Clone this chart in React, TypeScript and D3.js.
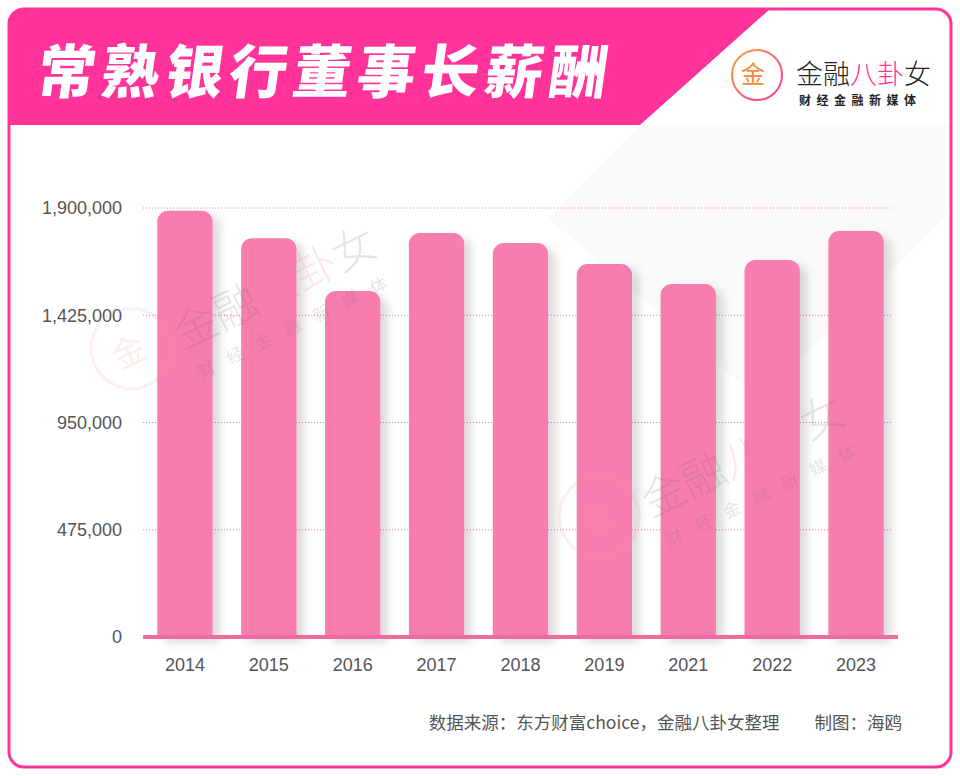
import { useMemo } from "react";
import * as d3 from "d3";

const years = ["2014", "2015", "2016", "2017", "2018", "2019", "2021", "2022", "2023"];
const salary = [1888000, 1766000, 1532000, 1789000, 1745000, 1652000, 1563000, 1670000, 1798000];
const yTicks = [0, 475000, 950000, 1425000, 1900000];

const title = "常熟银行董事长薪酬";
const source = "数据来源：东方财富choice，金融八卦女整理　　制图：海鸥";

const W = 960;
const H = 776;
const PINK = "#ff3399";
const BAR = "#f77daf";
const CJK = "'Noto Sans CJK SC', 'Noto Sans', sans-serif";
const LATIN = "'Liberation Sans', Arial, sans-serif";

function Watermark({ x, y }: { x: number; y: number }) {
  return (
    <g transform={`translate(${x},${y}) rotate(-26)`} pointerEvents="none">
      <circle cx={-46} cy={-24} r={40} fill="none" stroke="#f6a08a" strokeWidth={3} opacity={0.16} />
      <text x={-50} y={-10} textAnchor="middle" fontSize={34} fill="#f6a08a" fontFamily={CJK} opacity={0.16}>金</text>
      <text x={0} y={0} fontSize={44} fill="#666" fontFamily={CJK} fontWeight={300} opacity={0.16}>
        金融<tspan fill="#ff6699">八卦</tspan>女
      </text>
      <text x={4} y={34} fontSize={17} fill="#666" fontFamily={CJK} letterSpacing={15} opacity={0.16}>财经金融新媒体</text>
    </g>
  );
}

export default function App() {
  const margin = { top: 208, left: 143, right: 62, bottom: 139 };
  const x = useMemo(
    () => d3.scaleBand<string>().domain(years).range([margin.left, W - margin.right]).paddingInner(0.34).paddingOuter(0.17),
    []
  );
  const y = useMemo(() => d3.scaleLinear().domain([0, 1900000]).range([H - margin.bottom, margin.top]), []);
  const fmt = d3.format(",");
  const r = 11;

  const barPath = (xi: number, bw: number, y0: number, y1: number) => {
    const p = d3.path();
    p.moveTo(xi, y0);
    p.lineTo(xi, y1 + r);
    p.arcTo(xi, y1, xi + r, y1, r);
    p.lineTo(xi + bw - r, y1);
    p.arcTo(xi + bw, y1, xi + bw, y1 + r, r);
    p.lineTo(xi + bw, y0);
    p.closePath();
    return p.toString();
  };

  return (
    <div style={{ position: "absolute", left: 0, top: 0 }}>
      <svg width={W} height={H} style={{ display: "block" }}>
        <defs>
          <filter id="barShadow" x="-30%" y="-10%" width="180%" height="130%">
            <feDropShadow dx={7} dy={5} stdDeviation={5} floodColor="#000" floodOpacity={0.15} />
          </filter>
          <linearGradient id="logoGrad" x1="0%" y1="0%" x2="100%" y2="100%">
            <stop offset="0%" stopColor="#f7a23b" />
            <stop offset="100%" stopColor="#ff3399" />
          </linearGradient>
        </defs>
        <rect width={W} height={H} fill="#fff" />
        {/* faint diagonal backdrop */}
        <path d="M640,125 L951,125 L951,212 L760,400 L548,218 Z" fill="#fafafa" />

        {/* header band */}
        <path d={`M9,24 Q9,9 24,9 L770,9 L640,125 L9,125 Z`} fill={PINK} />
        <text
          x={36}
          y={93}
          fill="#fff"
          fontSize={58}
          fontWeight={900}
          fontFamily={CJK}
          letterSpacing={6}
          transform="skewX(-8) translate(12,0)"
        >
          {title}
        </text>

        {/* logo */}
        <g>
          <circle cx={757} cy={75} r={25} fill="none" stroke="url(#logoGrad)" strokeWidth={2} />
          <text x={753} y={83} textAnchor="middle" fontSize={24} fill="#f58a3f" fontFamily={CJK}>金</text>
          <text x={796} y={84} fontSize={27} fill="#222" fontFamily={CJK} fontWeight={300}>
            金融<tspan fill="#ff3399">八卦</tspan>女
          </text>
          <text x={799} y={105} fontSize={12} fill="#222" fontFamily={CJK} fontWeight={700} letterSpacing={5.5}>
            财经金融新媒体
          </text>
        </g>

        {/* gridlines */}
        {yTicks.filter((t) => t > 0).map((t) => (
          <line
            key={t}
            x1={margin.left}
            x2={W - margin.right - 5}
            y1={y(t)}
            y2={y(t)}
            stroke="#f07ab0"
            strokeWidth={1}
            strokeDasharray="1 2"
          />
        ))}
        {yTicks.map((t) => (
          <text
            key={"l" + t}
            x={122}
            y={y(t)}
            dy="0.35em"
            textAnchor="end"
            fontSize={18}
            fill="#555"
            fontFamily={LATIN}
          >
            {fmt(t)}
          </text>
        ))}

        {/* bars */}
        <g filter="url(#barShadow)">
          {years.map((yr, i) => (
            <path key={yr} d={barPath(x(yr)!, x.bandwidth(), y(0), y(salary[i]))} fill={BAR} />
          ))}
        </g>
        <line x1={margin.left} x2={W - margin.right} y1={y(0)} y2={y(0)} stroke="#f06aa2" strokeWidth={4} />

        <Watermark x={183} y={350} />
        <Watermark x={651} y={518} />

        {years.map((yr) => (
          <text
            key={"x" + yr}
            x={x(yr)! + x.bandwidth() / 2}
            y={671}
            textAnchor="middle"
            fontSize={18}
            fill="#555"
            fontFamily={LATIN}
          >
            {yr}
          </text>
        ))}

        <text x={902} y={729} textAnchor="end" fontSize={17.5} fill="#555" fontFamily={CJK}>
          {source}
        </text>

        {/* outer border */}
        <rect x={9} y={9} width={942} height={758} rx={15} fill="none" stroke={PINK} strokeWidth={3} />
      </svg>
    </div>
  );
}
